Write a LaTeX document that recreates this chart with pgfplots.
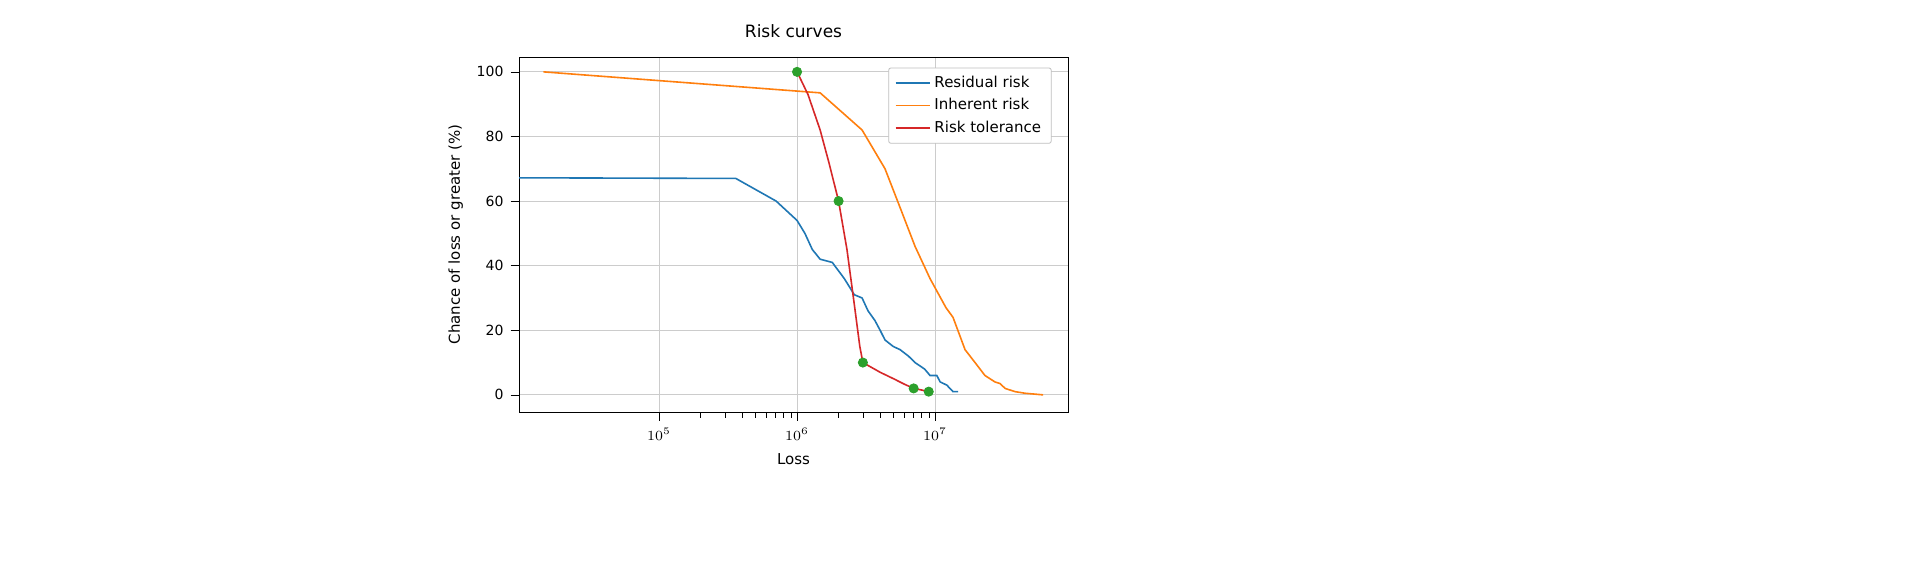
\documentclass[border=0pt]{standalone}
\usepackage{pgfplots}
\pgfplotsset{compat=1.18}
\usepackage{fontspec}
\setmainfont{DejaVu Sans}
\definecolor{mblue}{HTML}{1F77B4}
\definecolor{morange}{HTML}{FF7F0E}
\definecolor{mred}{HTML}{D62728}
\definecolor{mgreen}{HTML}{2CA02C}
\begin{document}
\begin{tikzpicture}
\path[fill=white] (0,0) rectangle (960pt,288pt);
\begin{axis}[
  at={(259.5pt,82pt)}, anchor=south west,
  scale only axis, width=274.5pt, height=177.5pt,
  xmode=log, xmin=9660, xmax=9.2e7,
  ymin=-5.3, ymax=104.6,
  ytick={0,20,40,60,80,100},
  xtick={1e5,1e6,1e7},
  yticklabel style={/pgf/number format/assume math mode=true},
  grid=major, major grid style={gray!40},
  tick align=outside, tick style={black},
  xtick pos=bottom, ytick pos=left,
  ticklabel style={font=\fontsize{7}{8}\selectfont},
  label style={font=\fontsize{7.5}{9}\selectfont},
  title style={font=\fontsize{8.5}{10}\selectfont},
  title={Risk curves},
  xlabel={Loss}, ylabel={Chance of loss or greater (\%)},
  legend pos=north east,
  legend style={font=\fontsize{7.5}{9}\selectfont, draw=gray!50, rounded corners=1pt},
  legend cell align=left,
]
\addplot[mblue, thick] coordinates {
(9660,67.2)(3.6e5,67)(7.05e5,60)(1e6,54)(1.14e6,50)(1.29e6,45)(1.47e6,42)(1.8e6,41)(2.2e6,36)(2.6e6,31)(2.96e6,30)(3.27e6,26)(3.67e6,23)(4e6,20)(4.34e6,17)(4.97e6,15)(5.58e6,14)(6.42e6,12)(7.16e6,10)(8.4e6,8)(9.2e6,6)(1.03e7,6)(1.09e7,4)(1.22e7,3)(1.28e7,2)(1.35e7,1)(1.47e7,1)};
\addlegendentry{Residual risk}
\addplot[morange, thick] coordinates {
(1.45e4,100)(1.47e6,93.5)(2.96e6,82)(4.34e6,70)(5.58e6,58)(7.16e6,46)(9.2e6,36)(1.2e7,27)(1.35e7,24)(1.65e7,14)(1.95e7,10)(2.3e7,6)(2.5e7,5)(2.72e7,4)(2.96e7,3.5)(3.22e7,2)(3.8e7,1)(4.5e7,0.5)(6.07e7,0)};
\addlegendentry{Inherent risk}
\addplot[mred, thick] coordinates {(1e6,100)(1.2e6,93)(1.47e6,82)(1.7e6,72)(2e6,60)(2.3e6,45)(2.6e6,28)(2.85e6,15)(3e6,10)(4e6,7)(5e6,5)(6e6,3.3)(7e6,2)(8e6,1.5)(9e6,1)};
\addlegendentry{Risk tolerance}
\addplot[only marks, mark=*, mark size=2.3pt, mgreen, forget plot] coordinates {(1e6,100)(2e6,60)(3e6,10)(7e6,2)(9e6,1)};
\end{axis}
\end{tikzpicture}
\end{document}
